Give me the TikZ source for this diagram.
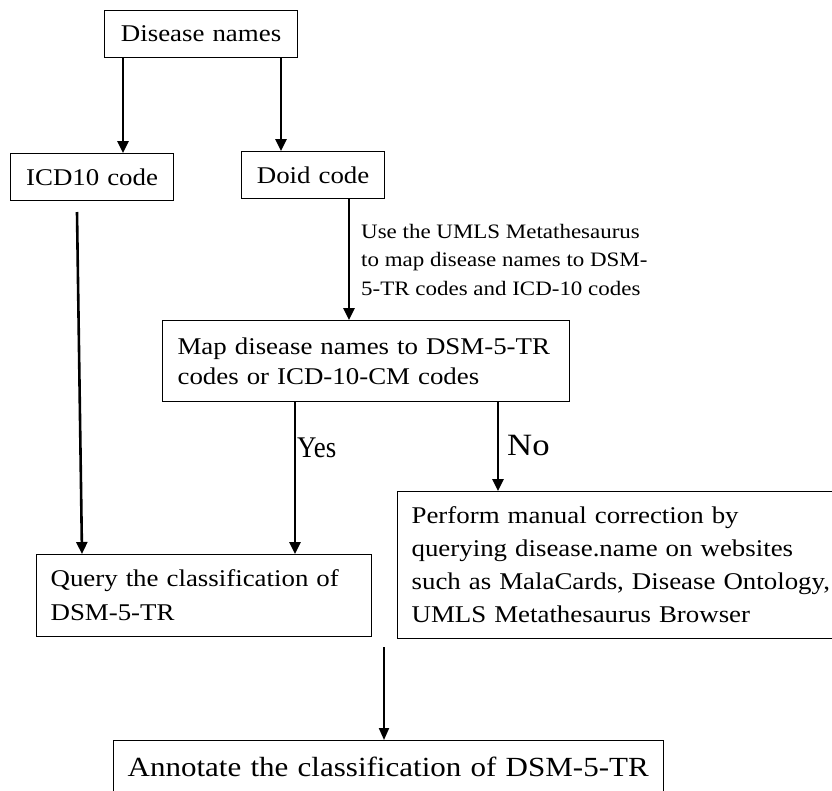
\documentclass[tikz,border=0pt]{standalone}
\usepackage{fontspec}
\usepackage{graphicx}
\setmainfont[FakeStretch=1.12]{Liberation Serif}
\usetikzlibrary{arrows.meta}
\begin{document}
\begin{tikzpicture}[x=1pt,y=1pt,
  box/.style={draw, line width=1.2pt, anchor=north west, inner xsep=14pt, inner ysep=0pt,
    font=\fontsize{24}{33}\selectfont, align=left},
  arr/.style={-{Triangle[length=12pt,width=11pt]}, line width=2.6pt},
  thinarr/.style={-{Triangle[length=12pt,width=10pt]}, line width=2pt},
  lbl/.style={font=\fontsize{20.5}{28.5}\selectfont, align=left, anchor=north west, inner sep=0pt}
]
\useasboundingbox (0,0) rectangle (832,-790);
\node[box, minimum width=193pt, minimum height=47pt, text width=165pt, align=center] (dn) at (104,-10) {Disease names};
\node[box, minimum width=163pt, minimum height=47pt, text width=135pt, align=center] (icd) at (10,-153) {ICD10 code};
\node[box, minimum width=143pt, minimum height=47pt, text width=115pt, align=center] (doid) at (241,-151) {Doid code};
\node[box, minimum width=407pt, minimum height=81pt, text width=377pt, inner xsep=15pt,
  font=\fontsize{24}{30}\selectfont] (map) at (162,-320)
  {Map disease names to DSM-5-TR\\codes or ICD-10-CM codes};
\node[box, minimum width=335pt, minimum height=82pt, text width=307pt,
  font=\fontsize{24}{34}\selectfont] (query) at (36,-554)
  {Query the classification of\\DSM-5-TR};
\node[box, minimum width=453pt, minimum height=147pt, text width=425pt] (perf) at (397,-491)
  {Perform manual correction by\\querying disease.name on websites\\such as MalaCards, Disease Ontology,\\UMLS Metathesaurus Browser};
\node[box, minimum width=550pt, minimum height=52pt, text width=522pt,
  font=\fontsize{27.7}{33}\selectfont] (anno) at (113,-740)
  {Annotate the classification of DSM-5-TR};

\node[lbl] (note) at (361,-224) {Use the UMLS Metathesaurus\\to map disease names to DSM-\\5-TR codes and ICD-10 codes};

\coordinate (icdtop) at (77,-212);
\coordinate (icdend) at (82,-554);
\coordinate (fintop) at (384,-647);

\draw[arr] (dn.south -| 123,0) -- (icd.north -| 123,0);
\draw[arr] (dn.south -| 281,0) -- (doid.north -| 281,0);
\draw[arr] (icdtop) -- (query.north -| icdend);
\draw[arr] (doid.south -| 349,0) -- (map.north -| 349,0);
\draw[arr] (map.south -| 295,0) -- (query.north -| 295,0);
\draw[arr] (map.south -| 498,0) -- (perf.north -| 498,0);
\draw[thinarr] (fintop) -- (anno.north -| fintop);

\node[anchor=base west, inner sep=0pt, font=\fontsize{30}{34}\selectfont] (yes) at (297,-457) {\scalebox{0.8}[1]{Yes}};
\node[anchor=base west, inner sep=0pt, font=\fontsize{31}{34}\selectfont] (no) at (507,-455) {No};
\end{tikzpicture}
\end{document}
